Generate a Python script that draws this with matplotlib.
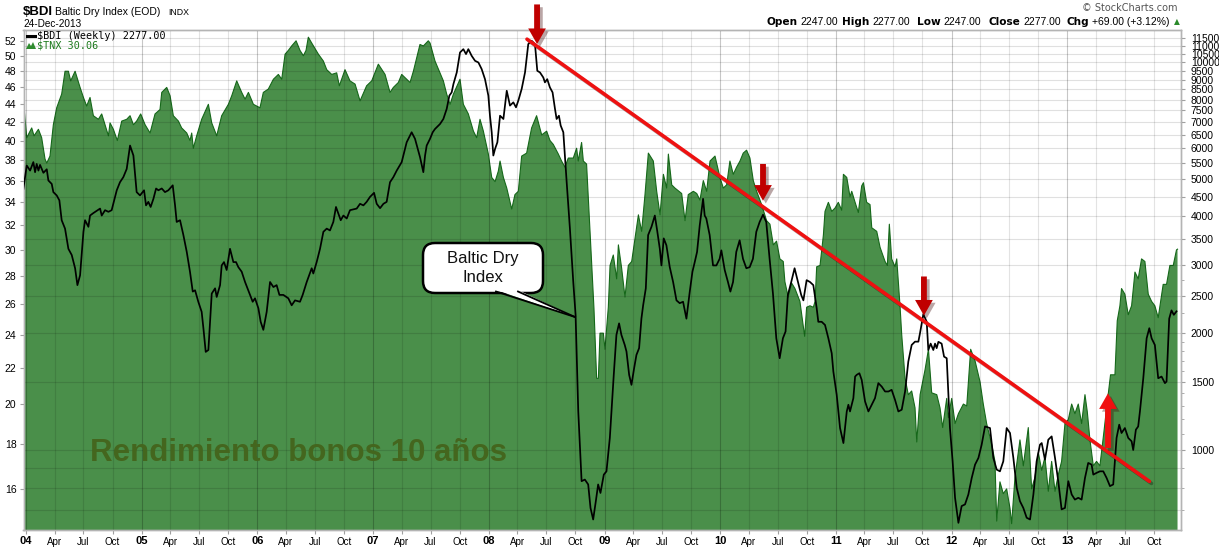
import matplotlib
matplotlib.use('Agg')
import matplotlib.pyplot as plt
import matplotlib.transforms as mtrans
import matplotlib.patheffects as pe
from matplotlib.patches import FancyBboxPatch, Polygon
from matplotlib.lines import Line2D
from matplotlib.ticker import FixedLocator, FixedFormatter, NullFormatter

plt.rcParams['font.family'] = ['Liberation Sans', 'DejaVu Sans']

# ---------------- data (decimal years) ----------------
tnx_dates = [2003.98, 2004.006, 2004.049, 2004.069, 2004.107, 2004.135, 2004.164, 2004.179, 2004.207, 2004.236,
             2004.265, 2004.308, 2004.337, 2004.366, 2004.386, 2004.424, 2004.467, 2004.496, 2004.524, 2004.553,
             2004.582, 2004.625, 2004.654, 2004.683, 2004.712, 2004.726, 2004.755, 2004.789, 2004.827, 2004.870,
             2004.899, 2004.928, 2004.956, 2004.991, 2005.029, 2005.072, 2005.115, 2005.158, 2005.173, 2005.216,
             2005.245, 2005.273, 2005.317, 2005.345, 2005.389, 2005.417, 2005.432, 2005.446, 2005.475, 2005.518,
             2005.576, 2005.605, 2005.648, 2005.691, 2005.749, 2005.778, 2005.821, 2005.864, 2005.893, 2005.922,
             2005.965, 2006.022, 2006.051, 2006.094, 2006.138, 2006.181, 2006.210, 2006.239, 2006.267, 2006.296,
             2006.334, 2006.368, 2006.397, 2006.420, 2006.440, 2006.469, 2006.527, 2006.570, 2006.599, 2006.642,
             2006.685, 2006.708, 2006.757, 2006.800, 2006.844, 2006.887, 2006.944, 2006.988, 2007.045, 2007.103,
             2007.146, 2007.175, 2007.218, 2007.247, 2007.290, 2007.319, 2007.348, 2007.405, 2007.434, 2007.477,
             2007.492, 2007.535, 2007.578, 2007.607, 2007.636, 2007.665, 2007.694, 2007.751, 2007.780, 2007.823,
             2007.867, 2007.895, 2007.924, 2007.953, 2007.996, 2008.025, 2008.054, 2008.082, 2008.097, 2008.126,
             2008.155, 2008.198, 2008.226, 2008.255, 2008.284, 2008.327, 2008.370, 2008.413, 2008.457, 2008.500,
             2008.529, 2008.557, 2008.601, 2008.629, 2008.658, 2008.687, 2008.730, 2008.759, 2008.773, 2008.802,
             2008.817, 2008.845, 2008.875, 2008.909, 2008.932, 2008.947, 2008.961, 2008.990, 2009.004, 2009.033,
             2009.048, 2009.076, 2009.105, 2009.120, 2009.148, 2009.177, 2009.206, 2009.235, 2009.293, 2009.321,
             2009.350, 2009.379, 2009.422, 2009.451, 2009.480, 2009.509, 2009.537, 2009.552, 2009.581, 2009.609,
             2009.667, 2009.696, 2009.724, 2009.768, 2009.797, 2009.825, 2009.854, 2009.883, 2009.912, 2009.955,
             2009.998, 2010.027, 2010.056, 2010.084, 2010.113, 2010.142, 2010.171, 2010.199, 2010.228, 2010.257,
             2010.286, 2010.315, 2010.358, 2010.401, 2010.430, 2010.459, 2010.487, 2010.516, 2010.545, 2010.559,
             2010.588, 2010.617, 2010.646, 2010.689, 2010.730, 2010.747, 2010.776, 2010.805, 2010.820, 2010.834,
             2010.863, 2010.892, 2010.906, 2010.935, 2010.964, 2010.993, 2011.021, 2011.050, 2011.065, 2011.094,
             2011.122, 2011.137, 2011.166, 2011.194, 2011.223, 2011.238, 2011.266, 2011.295, 2011.310, 2011.353,
             2011.382, 2011.425, 2011.445, 2011.462, 2011.482, 2011.511, 2011.526, 2011.555, 2011.569, 2011.598,
             2011.626, 2011.655, 2011.684, 2011.699, 2011.728, 2011.771, 2011.800, 2011.828, 2011.872, 2011.900,
             2011.923, 2011.958, 2011.972, 2012.001, 2012.030, 2012.059, 2012.102, 2012.131, 2012.165, 2012.203,
             2012.246, 2012.274, 2012.303, 2012.346, 2012.375, 2012.390, 2012.418, 2012.447, 2012.476, 2012.505,
             2012.519, 2012.548, 2012.591, 2012.620, 2012.663, 2012.692, 2012.721, 2012.750, 2012.779, 2012.807,
             2012.836, 2012.865, 2012.894, 2012.922, 2012.951, 2012.980, 2013.009, 2013.038, 2013.066, 2013.095,
             2013.124, 2013.153, 2013.173, 2013.196, 2013.225, 2013.253, 2013.282, 2013.317, 2013.340, 2013.374,
             2013.412, 2013.432, 2013.455, 2013.469, 2013.498, 2013.527, 2013.556, 2013.585, 2013.613, 2013.642,
             2013.671, 2013.700, 2013.729, 2013.757, 2013.786, 2013.829, 2013.858, 2013.887, 2013.916, 2013.944,
             2013.953]
tnx_values = [44.0, 40.3, 41.35, 40.5, 41.2, 40.3, 38.1, 37.7, 38.4, 41.7,
              43.6, 45.2, 48.0, 48.0, 46.8, 48.0, 46.0, 44.8, 43.8, 44.8,
              42.7, 42.3, 42.9, 41.7, 40.5, 41.9, 41.2, 40.0, 42.1, 42.3,
              42.7, 41.7, 42.1, 42.9, 41.7, 40.8, 42.9, 43.4, 45.4, 46.0,
              45.0, 42.7, 42.1, 41.35, 40.8, 40.0, 40.8, 39.2, 40.5, 42.3,
              44.0, 41.9, 40.5, 42.7, 44.0, 45.0, 46.8, 45.4, 44.6, 45.4,
              44.0, 43.6, 45.4, 45.8, 47.0, 47.6, 47.0, 50.2, 50.7, 51.3,
              52.0, 50.7, 50.0, 50.7, 52.5, 51.7, 50.2, 49.3, 48.2, 47.6,
              47.8, 46.2, 48.2, 46.8, 46.4, 44.4, 46.2, 46.8, 48.9, 47.6,
              45.4, 46.0, 46.6, 47.6, 47.0, 46.6, 48.0, 51.5, 51.3, 52.0,
              51.7, 49.3, 47.8, 46.8, 45.2, 44.0, 45.2, 47.0, 44.0, 42.9,
              41.0, 40.3, 42.3, 41.0, 38.6, 36.3, 35.9, 36.9, 37.9, 36.3,
              35.3, 33.4, 34.7, 35.0, 38.4, 38.7, 41.35, 42.7, 40.6, 41.0,
              40.0, 39.6, 38.6, 37.9, 37.3, 38.2, 38.2, 39.2, 37.9, 39.8,
              37.9, 37.6, 31.5, 25.7, 21.4, 21.4, 24.1, 24.1, 23.1, 25.8,
              28.8, 29.6, 27.8, 30.4, 28.6, 26.5, 28.8, 29.1, 32.9, 31.5,
              34.7, 38.7, 37.9, 35.0, 32.9, 36.6, 35.3, 38.6, 35.6, 35.3,
              34.8, 32.4, 34.7, 35.0, 34.8, 34.2, 36.0, 35.0, 37.9, 38.4,
              36.3, 35.3, 35.6, 37.9, 36.6, 37.3, 37.9, 38.7, 39.0, 38.2,
              36.0, 35.0, 33.8, 32.4, 32.1, 30.4, 30.7, 29.3, 29.1, 27.6,
              26.5, 27.5, 27.1, 26.2, 23.9, 25.8, 25.9, 25.8, 26.2, 28.7,
              28.8, 31.2, 33.2, 34.0, 33.2, 33.5, 34.0, 33.3, 36.6, 36.3,
              34.5, 35.0, 34.0, 33.1, 35.5, 35.8, 34.0, 33.8, 31.8, 31.5,
              30.2, 29.1, 28.8, 32.1, 29.3, 28.7, 29.3, 25.8, 24.0, 21.4,
              20.5, 20.7, 19.8, 18.1, 20.5, 21.9, 23.1, 20.6, 20.5, 19.8,
              18.8, 20.3, 19.3, 20.3, 19.0, 19.5, 20.0, 19.9, 23.1, 22.4,
              21.2, 20.0, 19.0, 18.0, 17.2, 14.7, 16.3, 15.8, 16.0, 15.2,
              14.6, 16.5, 18.2, 17.0, 18.8, 16.0, 16.5, 17.6, 16.8, 17.4,
              15.9, 17.2, 15.9, 16.6, 17.2, 19.0, 19.2, 20.0, 19.5, 20.0,
              19.0, 20.5, 19.6, 18.2, 17.0, 17.2, 17.0, 18.6, 19.8, 21.6,
              21.6, 24.9, 25.9, 27.1, 26.7, 25.3, 25.9, 28.3, 27.8, 29.3,
              29.1, 26.7, 26.2, 25.9, 25.1, 27.4, 27.4, 28.8, 28.8, 30.0,
              30.06]

bdi_dates = [2003.977, 2004.006, 2004.035, 2004.063, 2004.078, 2004.092, 2004.107, 2004.121, 2004.150, 2004.179,
             2004.193, 2004.222, 2004.236, 2004.265, 2004.288, 2004.308, 2004.337, 2004.366, 2004.395, 2004.424,
             2004.444, 2004.467, 2004.496, 2004.510, 2004.539, 2004.553, 2004.582, 2004.640, 2004.654, 2004.683,
             2004.712, 2004.740, 2004.784, 2004.812, 2004.841, 2004.870, 2004.899, 2004.928, 2004.956, 2004.985,
             2005.020, 2005.037, 2005.057, 2005.077, 2005.101, 2005.124, 2005.144, 2005.173, 2005.201, 2005.230,
             2005.268, 2005.288, 2005.302, 2005.331, 2005.360, 2005.389, 2005.417, 2005.441, 2005.461, 2005.489,
             2005.518, 2005.533, 2005.553, 2005.576, 2005.605, 2005.634, 2005.648, 2005.677, 2005.691, 2005.711,
             2005.734, 2005.763, 2005.792, 2005.815, 2005.835, 2005.864, 2005.893, 2005.936, 2005.959, 2005.979,
             2006.008, 2006.028, 2006.051, 2006.080, 2006.109, 2006.138, 2006.166, 2006.190, 2006.224, 2006.267,
             2006.296, 2006.325, 2006.368, 2006.391, 2006.426, 2006.469, 2006.483, 2006.512, 2006.541, 2006.570,
             2006.599, 2006.627, 2006.656, 2006.679, 2006.700, 2006.720, 2006.743, 2006.772, 2006.800, 2006.858,
             2006.887, 2006.916, 2006.944, 2006.973, 2007.008, 2007.031, 2007.060, 2007.089, 2007.117, 2007.146,
             2007.175, 2007.204, 2007.247, 2007.290, 2007.333, 2007.362, 2007.405, 2007.434, 2007.449, 2007.463,
             2007.492, 2007.515, 2007.535, 2007.578, 2007.607, 2007.636, 2007.659, 2007.679, 2007.694, 2007.723,
             2007.751, 2007.780, 2007.803, 2007.823, 2007.852, 2007.881, 2007.910, 2007.938, 2007.967, 2007.996,
             2008.010, 2008.025, 2008.039, 2008.054, 2008.074, 2008.097, 2008.126, 2008.155, 2008.183, 2008.212,
             2008.235, 2008.255, 2008.284, 2008.313, 2008.341, 2008.370, 2008.399, 2008.419, 2008.442, 2008.471,
             2008.485, 2008.505, 2008.528, 2008.551, 2008.572, 2008.586, 2008.606, 2008.621, 2008.644, 2008.673,
             2008.701, 2008.730, 2008.750, 2008.773, 2008.802, 2008.830, 2008.859, 2008.879, 2008.902, 2008.925,
             2008.945, 2008.965, 2008.994, 2009.017, 2009.046, 2009.060, 2009.080, 2009.103, 2009.126, 2009.146,
             2009.175, 2009.190, 2009.213, 2009.233, 2009.256, 2009.276, 2009.299, 2009.319, 2009.334, 2009.357,
             2009.377, 2009.406, 2009.435, 2009.455, 2009.478, 2009.492, 2009.512, 2009.535, 2009.564, 2009.593,
             2009.622, 2009.650, 2009.679, 2009.708, 2009.737, 2009.760, 2009.780, 2009.800, 2009.823, 2009.852,
             2009.866, 2009.880, 2009.909, 2009.938, 2009.967, 2009.995, 2010.010, 2010.039, 2010.067, 2010.088,
             2010.111, 2010.139, 2010.168, 2010.197, 2010.226, 2010.255, 2010.283, 2010.312, 2010.341, 2010.370,
             2010.398, 2010.427, 2010.456, 2010.485, 2010.514, 2010.542, 2010.565, 2010.585, 2010.614, 2010.643,
             2010.672, 2010.700, 2010.719, 2010.747, 2010.776, 2010.805, 2010.834, 2010.848, 2010.877, 2010.906,
             2010.935, 2010.964, 2010.978, 2011.007, 2011.036, 2011.065, 2011.094, 2011.108, 2011.122, 2011.137,
             2011.151, 2011.166, 2011.180, 2011.203, 2011.223, 2011.252, 2011.281, 2011.310, 2011.338, 2011.367,
             2011.396, 2011.425, 2011.454, 2011.482, 2011.511, 2011.540, 2011.569, 2011.598, 2011.626, 2011.655,
             2011.684, 2011.713, 2011.727, 2011.756, 2011.785, 2011.799, 2011.819, 2011.842, 2011.857, 2011.871,
             2011.886, 2011.914, 2011.935, 2011.958, 2011.986, 2012.009, 2012.030, 2012.059, 2012.087, 2012.116,
             2012.145, 2012.174, 2012.203, 2012.232, 2012.260, 2012.289, 2012.332, 2012.361, 2012.390, 2012.418,
             2012.447, 2012.476, 2012.505, 2012.534, 2012.563, 2012.591, 2012.620, 2012.649, 2012.678, 2012.707,
             2012.735, 2012.764, 2012.779, 2012.807, 2012.836, 2012.865, 2012.894, 2012.922, 2012.951, 2012.980,
             2013.009, 2013.038, 2013.066, 2013.095, 2013.124, 2013.153, 2013.181, 2013.210, 2013.225, 2013.253,
             2013.282, 2013.311, 2013.340, 2013.369, 2013.397, 2013.426, 2013.449, 2013.469, 2013.498, 2013.527,
             2013.556, 2013.570, 2013.593, 2013.613, 2013.628, 2013.657, 2013.686, 2013.709, 2013.729, 2013.757,
             2013.786, 2013.815, 2013.844, 2013.858, 2013.881, 2013.901, 2013.921, 2013.944]
bdi_values = [4710, 5410, 5250, 5520, 5200, 5460, 5250, 5430, 5180, 5290,
              4950, 4850, 4620, 4530, 4400, 3910, 3720, 3300, 3180, 2940,
              2660, 2820, 3650, 3910, 3760, 4020, 4080, 4190, 4020, 4150,
              4110, 4150, 4670, 4900, 5050, 5300, 6090, 5740, 4620, 4530,
              4670, 4270, 4360, 4230, 4440, 4720, 4670, 4720, 4620, 4670,
              4810, 4270, 3870, 3910, 3580, 3240, 2880, 2560, 2580, 2410,
              2270, 2060, 1790, 1810, 2530, 2610, 2480, 2660, 2990, 3050,
              2910, 3300, 3050, 3050, 2960, 2880, 2710, 2510, 2410, 2460,
              2320, 2140, 2040, 2270, 2710, 2630, 2660, 2510, 2510, 2460,
              2360, 2430, 2410, 2510, 2710, 2940, 2850, 3050, 3300, 3650,
              3720, 3680, 3870, 4230, 4060, 3910, 4020, 3950, 4150, 4190,
              4310, 4270, 4360, 4490, 4600, 4310, 4200, 4310, 4360, 4900,
              5050, 5250, 5520, 6210, 6590, 6340, 5690, 5200, 5740, 6090,
              6340, 6590, 6720, 6920, 7130, 7570, 8190, 8350, 8770, 9400,
              10580, 10790, 10480, 10790, 10370, 10070, 9970, 9590, 9030, 8190,
              7270, 6590, 5740, 5970, 6210, 7270, 7130, 8430, 7720, 7870,
              7640, 7950, 8520, 9400, 11120, 11340, 11120, 9490, 9400, 9120,
              8860, 9030, 8600, 8350, 7570, 7130, 7270, 6860, 6590, 4900,
              3720, 2710, 2230, 1260, 831, 839, 815, 709, 662, 738,
              815, 775, 864, 881, 1074, 1257, 1562, 1980, 2120, 1980,
              1865, 1793, 1562, 1472, 1625, 1758, 1830, 2180, 2360, 2610,
              3580, 3760, 4020, 3680, 3300, 2990, 3510, 3370, 2960, 2710,
              2430, 2390, 2410, 2180, 2560, 2880, 3050, 3240, 3790, 4440,
              4020, 3950, 3580, 2990, 2990, 3110, 3270, 2910, 2710, 2560,
              2710, 3240, 3470, 3110, 2940, 2960, 3110, 3650, 3870, 4040,
              3870, 3110, 2530, 1940, 1724, 1940, 2020, 2510, 2710, 2940,
              2710, 2510, 2430, 2740, 2710, 2660, 2320, 2140, 2140, 2100,
              1940, 1775, 1593, 1387, 1139, 1042, 1257, 1308, 1257, 1308,
              1360, 1546, 1562, 1577, 1516, 1334, 1257, 1308, 1360, 1487,
              1457, 1415, 1415, 1429, 1347, 1257, 1270, 1415, 1690, 1865,
              1902, 1902, 2000, 2240, 2140, 1810, 1880, 1810, 1880, 1830,
              1900, 1880, 1740, 1724, 1139, 935, 753, 649, 717, 724,
              768, 847, 917, 954, 1032, 1150, 1139, 954, 890, 881,
              935, 1139, 1106, 954, 799, 738, 709, 669, 662, 768,
              935, 1032, 1042, 944, 1063, 1084, 954, 831, 703, 709,
              831, 768, 745, 753, 745, 847, 926, 917, 864, 873,
              881, 881, 847, 807, 815, 1074, 1162, 1106, 1139, 1074,
              1053, 1000, 1128, 1150, 1257, 1531, 1940, 2060, 1940, 1865,
              1531, 1546, 1487, 1501, 2180, 2290, 2230, 2277]

tnx_ticks = list(range(16, 53, 2))
bdi_ticks = list(range(1000, 11501, 500))
bdi_minor = [700, 800, 900, 1100, 1200, 1300, 1400, 1600, 1700, 1800, 1900, 2250, 2750]
year_ticks = list(range(2004, 2014))
year_labels = ['04', '05', '06', '07', '08', '09', '10', '11', '12', '13']
month_labels = ['Apr', 'Jul', 'Oct']
month_offsets = [0.247, 0.496, 0.748]

quote_labels = ['Open', 'High', 'Low', 'Close', 'Chg']
quote_values = ['2247.00', '2277.00', '2247.00', '2277.00', '+69.00 (+3.12%)']

# annotations (dates, BDI values)
trend_start = (2008.33, 11450)
trend_end = (2013.71, 830)
down_arrows = [(2008.417, 14070, 11120), (2010.370, 5460, 4390), (2011.761, 2800, 2220)]
up_arrow = (2013.352, 1012, 1400)

# ---------------- figure ----------------
W, H = 1219, 547
fig = plt.figure(figsize=(W / 100, H / 100), dpi=100)
fig.patch.set_facecolor('white')
px = mtrans.Affine2D().scale(1 / W, -1 / H).translate(0, 1) + fig.transFigure

L, R, T, B = 23.5, 1181, 30, 530
ax = fig.add_axes([L / W, 1 - B / H, (R - L) / W, (B - T) / H])
ax2 = ax.twinx()

GREEN = '#4a8f4a'
GREEN_EDGE = '#16681a'

ax.set_yscale('log')
ax.set_ylim(14.36, 53.5)
ax.fill_between(tnx_dates, tnx_values, 1, color=GREEN, lw=0, zorder=1)
ax.plot(tnx_dates, tnx_values, color=GREEN_EDGE, lw=0.8, zorder=2)

ax2.set_yscale('log')
ax2.set_ylim(622, 12090)
ax.set_xlim(2003.978, 2013.983)

# grid lines (drawn on ax2 so they sit above the filled area)
for v in bdi_ticks + [700, 800, 900]:
    ax2.axhline(v, color='black', alpha=0.12, lw=0.8, zorder=1)
for y in year_ticks:
    ax2.axvline(y, color='black', alpha=0.22, lw=0.8, zorder=1)
    for off in month_offsets:
        ax2.axvline(y + off, color='black', alpha=0.11, lw=0.8, zorder=1)

ax2.plot(bdi_dates, bdi_values, color='black', lw=1.25, zorder=5, solid_joinstyle='round')

# ticks
ax.yaxis.set_major_locator(FixedLocator(tnx_ticks))
ax.yaxis.set_major_formatter(FixedFormatter([str(t) for t in tnx_ticks]))
ax.yaxis.set_minor_locator(FixedLocator([]))
ax2.yaxis.set_major_locator(FixedLocator(bdi_ticks))
ax2.yaxis.set_major_formatter(FixedFormatter([str(t) for t in bdi_ticks]))
ax2.yaxis.set_minor_locator(FixedLocator(bdi_minor))
ax2.yaxis.set_minor_formatter(NullFormatter())

ax.set_xticks(year_ticks)
ax.set_xticklabels(year_labels)
minor_pos, minor_lab = [], []
for y in year_ticks:
    for off, lab in zip(month_offsets, month_labels):
        minor_pos.append(y + off)
        minor_lab.append(lab)
ax.set_xticks(minor_pos, minor=True)
ax.set_xticklabels(minor_lab, minor=True)

tick_col = '#a0a0a0'
ax.tick_params(axis='y', which='major', direction='out', length=3, width=0.8, pad=2,
               labelsize=7.5, color=tick_col, labelcolor='black')
ax2.tick_params(axis='y', which='major', direction='out', length=3, width=0.8, pad=4,
                labelsize=7.5, color=tick_col, labelcolor='black')
ax2.tick_params(axis='y', which='minor', direction='out', length=2, width=0.6, color=tick_col)
ax.tick_params(axis='x', which='major', direction='out', length=3, width=0.8, pad=1,
               labelsize=8, color=tick_col, labelcolor='black')
ax.tick_params(axis='x', which='minor', direction='out', length=3, width=0.8, pad=2,
               labelsize=7, color=tick_col, labelcolor='black')
for lbl in ax.get_xticklabels():
    lbl.set_fontweight('bold')

for a in (ax, ax2):
    for s in a.spines.values():
        s.set_color('#b4b4b4')
        s.set_linewidth(1.0)

# trend line and arrows
shadow = [pe.SimpleLineShadow(offset=(1.5, -1.5), alpha=0.3, shadow_color='black'), pe.Normal()]
ax2.plot([trend_start[0], trend_end[0]], [trend_start[1], trend_end[1]], color='#ee1111',
         lw=2.6, zorder=7, solid_capstyle='round', path_effects=shadow)

def draw_arrow(t, tail, tip, color):
    ann = ax2.annotate('', xy=(t, tip), xytext=(t, tail), xycoords='data', textcoords='data',
                       annotation_clip=False, zorder=8,
                       arrowprops=dict(arrowstyle='simple,head_length=0.75,head_width=0.85,tail_width=0.28',
                                       mutation_scale=15, fc=color, ec='none', shrinkA=0, shrinkB=0))
    ann.arrow_patch.set_clip_on(False)
    ann.arrow_patch.set_path_effects([pe.SimplePatchShadow(offset=(2, -2), alpha=0.35), pe.Normal()])

for t, tail, tip in down_arrows:
    draw_arrow(t, tail, tip, '#c00000')
draw_arrow(up_arrow[0], up_arrow[1], up_arrow[2], '#f01010')

# watermark text
fig.text(90 / W, 1 - 453 / H, 'Rendimiento bonos 10 años', fontsize=22.5, fontweight='bold',
         color='#44661e', ha='left', va='center', zorder=4)

# callout
box = FancyBboxPatch((423, 243), 120, 50, boxstyle='round,pad=0,rounding_size=12',
                     transform=px, facecolor='white', edgecolor='black', lw=1.8, zorder=10)
fig.add_artist(box)
wedge = Polygon([(496, 290), (575, 317), (518, 290)], closed=True, transform=px,
                facecolor='white', edgecolor='none', zorder=11)
fig.add_artist(wedge)
fig.add_artist(Line2D([496, 575], [291.5, 317], transform=px, color='black', lw=1.3, zorder=12))
fig.add_artist(Line2D([518, 575], [291.5, 317], transform=px, color='black', lw=1.3, zorder=12))
fig.text(483 / W, 1 - 258 / H, 'Baltic Dry', fontsize=12, ha='center', va='center', color='#111111', zorder=13)
fig.text(483 / W, 1 - 278 / H, 'Index', fontsize=12, ha='center', va='center', color='#111111', zorder=13)

# header (left)
fig.text(23 / W, 1 - 12 / H, '$BDI', fontsize=9.5, fontweight='bold', ha='left', va='center')
fig.text(55 / W, 1 - 12 / H, 'Baltic Dry Index (EOD)', fontsize=7.5, ha='left', va='center')
fig.text(168 / W, 1 - 12.5 / H, 'INDX', fontsize=6.3, ha='left', va='center')
fig.text(23 / W, 1 - 24 / H, '24-Dec-2013', fontsize=7.2, ha='left', va='center')

# legend inside plot
fig.add_artist(Line2D([27, 35], [36, 36], transform=px, color='black', lw=2.2, zorder=15))
fig.text(37 / W, 1 - 36 / H, '$BDI (Weekly) 2277.00', fontsize=7.3, family='DejaVu Sans Mono',
         ha='left', va='center', zorder=15)
fig.add_artist(Polygon([(26, 49), (29, 43), (31, 46), (33, 42), (36, 49)], closed=True, transform=px,
                       facecolor='#2e8b2e', edgecolor='none', zorder=15))
fig.text(37 / W, 1 - 45.5 / H, '$TNX 30.06', fontsize=7.3, family='DejaVu Sans Mono', color='#1d7a1d',
         ha='left', va='center', zorder=15)

# header (right): bold label right-aligned just before its value
fig.text(1178 / W, 1 - 8 / H, '\u00a9 StockCharts.com', fontsize=7, color='#555555', ha='right', va='center',
         family='DejaVu Sans')
value_x = [800, 872, 943, 1023, 1092]
for lab, val, x in zip(quote_labels, quote_values, value_x):
    fig.text((x - 2.5) / W, 1 - 22 / H, lab, fontsize=7.6, fontweight='bold', family='DejaVu Sans',
             ha='right', va='center')
    fig.text(x / W, 1 - 22 / H, val, fontsize=7.5, ha='left', va='center')
fig.text(1174 / W, 1 - 22 / H, '\u25b2', fontsize=5.5, color='#2a8a2a', ha='left', va='center',
         family='DejaVu Sans')

fig.savefig('out.png', dpi=100)
